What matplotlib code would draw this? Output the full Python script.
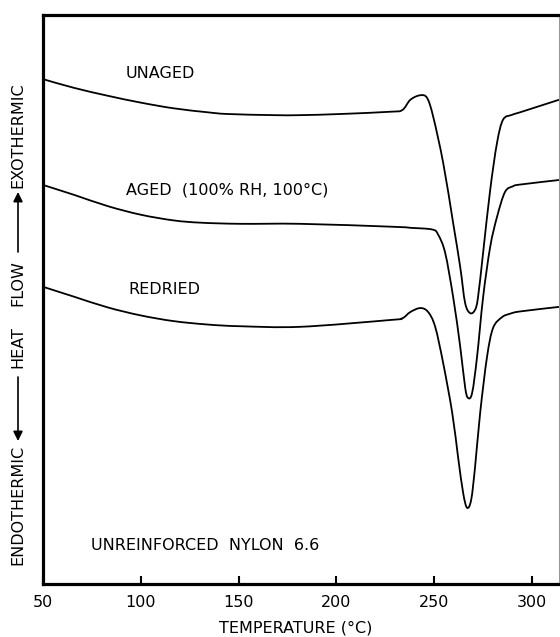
import matplotlib
matplotlib.use("Agg")
import matplotlib.pyplot as plt
from matplotlib.path import Path
from matplotlib.patches import PathPatch

plt.rcParams['font.family'] = ['DejaVu Sans']

# DSC thermograms of unreinforced nylon 6.6 (heat flow in arbitrary units)
unaged_T = [50.3, 65.8, 83.2, 100.0, 116.8, 134.2, 144.4, 167.9, 181.6, 202.0, 227.6, 233.7,
            237.8, 242.9, 246.4, 249.5, 254.6, 259.7, 263.3, 265.8, 268.4, 270.9, 272.4, 275.0,
            278.6, 282.1, 285.2, 289.8, 293.9, 313.8]
unaged_q = [88.7, 87.2, 85.8, 84.6, 83.6, 82.9, 82.6, 82.4, 82.4, 82.6, 83.0, 83.3,
            85.1, 85.9, 85.4, 82.1, 74.0, 63.4, 55.7, 49.4, 47.6, 48.2, 50.4, 58.2,
            69.2, 77.5, 81.6, 82.45, 82.9, 85.1]

aged_T = [50.3, 65.8, 83.2, 100.0, 116.8, 130.6, 151.0, 181.6, 227.6, 237.8, 249.0, 252.0,
          255.6, 259.7, 263.3, 265.8, 267.3, 269.4, 271.9, 275.0, 278.6, 282.1, 286.2, 290.3,
          293.9, 313.8]
aged_q = [70.1, 68.4, 66.4, 64.9, 63.9, 63.5, 63.3, 63.3, 62.8, 62.6, 62.3, 61.4,
          58.2, 50.4, 41.7, 34.6, 32.7, 33.6, 39.9, 50.4, 59.2, 64.5, 68.9, 69.9,
          70.2, 71.0]

redried_T = [50.3, 65.8, 83.2, 100.0, 116.8, 134.2, 151.0, 181.6, 227.6, 233.7, 237.8, 242.9,
             246.9, 250.5, 254.6, 259.2, 262.2, 264.8, 266.8, 268.9, 270.9, 273.5, 277.0, 280.1,
             284.7, 288.8, 293.9, 313.8]
redried_q = [52.2, 50.5, 48.6, 47.2, 46.2, 45.6, 45.3, 45.2, 46.4, 46.7, 47.8, 48.5,
             47.8, 45.2, 38.8, 30.1, 22.3, 16.0, 13.4, 14.8, 20.6, 30.1, 39.9, 45.0,
             46.9, 47.5, 47.9, 48.7]

xticks = [50, 100, 150, 200, 250, 300]


def smooth_path(xs, ys):
    """Catmull-Rom curve through the points, expressed as cubic Bezier segments."""
    pts = list(zip(xs, ys))
    n = len(pts)
    verts = [pts[0]]
    codes = [Path.MOVETO]
    for i in range(n - 1):
        p0 = pts[max(i - 1, 0)]
        p1 = pts[i]
        p2 = pts[i + 1]
        p3 = pts[min(i + 2, n - 1)]
        c1 = (p1[0] + (p2[0] - p0[0]) / 6, p1[1] + (p2[1] - p0[1]) / 6)
        c2 = (p2[0] - (p3[0] - p1[0]) / 6, p2[1] - (p3[1] - p1[1]) / 6)
        verts += [c1, c2, p2]
        codes += [Path.CURVE4] * 3
    return Path(verts, codes)


W, H = 560, 637
fig = plt.figure(figsize=(W / 100, H / 100), dpi=100)
ax = fig.add_axes([43 / W, 1 - 584 / H, (559 - 43) / W, (584 - 15) / H])

for T, q in [(unaged_T, unaged_q), (aged_T, aged_q), (redried_T, redried_q)]:
    ax.add_patch(PathPatch(smooth_path(T, q), fill=False, edgecolor='black', lw=1.3,
                           joinstyle='round', capstyle='round'))

ax.set_xlim(50, 313.8)
ax.set_ylim(0, 100)
ax.set_xticks(xticks)
ax.set_xticklabels([str(t) for t in xticks], fontsize=11.5)
ax.set_yticks([])
ax.tick_params(axis='x', direction='in', length=6, width=1.5, pad=8, colors='black')

for side in ['left', 'bottom', 'top']:
    ax.spines[side].set_linewidth(2.3)
ax.spines['right'].set_linewidth(0.8)
ax.spines['right'].set_color('#999999')

fs = 11.5
ax.text(92.3, 89.8, 'UNAGED', fontsize=fs, va='center', ha='left')
ax.text(92.3, 69.2, 'AGED  (100% RH, 100°C)', fontsize=fs, va='center', ha='left')
ax.text(93.4, 51.8, 'REDRIED', fontsize=fs, va='center', ha='left')
ax.text(74.5, 6.7, 'UNREINFORCED  NYLON  6.6', fontsize=fs, va='center', ha='left')

fig.text(296 / W, 1 - 628 / H, 'TEMPERATURE (°C)', fontsize=fs, ha='center', va='center')

# vertical heat-flow label with direction arrows
xl = 18
fig.text(xl / W, 1 - 135 / H, 'EXOTHERMIC', rotation=90, fontsize=fs, ha='center', va='center')
fig.text(xl / W, 1 - 283 / H, 'FLOW', rotation=90, fontsize=fs, ha='center', va='center')
fig.text(xl / W, 1 - 347 / H, 'HEAT', rotation=90, fontsize=fs, ha='center', va='center')
fig.text(xl / W, 1 - 505 / H, 'ENDOTHERMIC', rotation=90, fontsize=fs, ha='center', va='center')
arrow = dict(arrowstyle='-|>', lw=1.2, color='black', mutation_scale=14, shrinkA=0, shrinkB=0)
ax.annotate('', xy=(xl, H - 192), xytext=(xl, H - 252), xycoords='figure pixels',
            textcoords='figure pixels', arrowprops=arrow, annotation_clip=False)
ax.annotate('', xy=(xl, H - 441), xytext=(xl, H - 377), xycoords='figure pixels',
            textcoords='figure pixels', arrowprops=arrow, annotation_clip=False)

fig.savefig('out.png', dpi=100)
